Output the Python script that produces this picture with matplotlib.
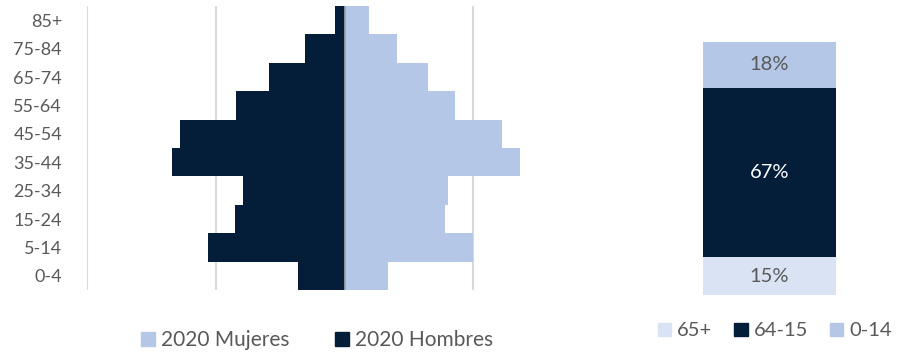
import numpy as np
import matplotlib.pyplot as plt
from matplotlib.patches import Patch

plt.rcParams['font.family'] = ['Lato', 'DejaVu Sans']

# age groups bottom -> top
grupos = ['0-4', '5-14', '15-24', '25-34', '35-44', '45-54', '55-64', '65-74', '75-84', '85+']
hombres = [1.8, 5.3, 4.25, 3.95, 6.7, 6.4, 4.2, 2.95, 1.55, 0.37]
mujeres = [1.7, 5.0, 3.9, 4.0, 6.8, 6.1, 4.3, 3.25, 2.05, 0.95]

# structure by broad age group (bottom -> top)
tramos = ['65+', '64-15', '0-14']
partes = [15, 67, 18]

navy = '#041e3a'
light = '#b4c7e7'
lightest = '#dae3f3'
gray = '#595959'

fig = plt.figure(figsize=(9.07, 3.55), dpi=100)

# pyramid
ax = fig.add_axes([87/907, 1 - 290/355, (602-87)/907, 284/355])
y = np.arange(len(grupos))
for g in [-10, -5, 5]:
    ax.axvline(g, color='#d9d9d9', lw=1.5, zorder=0)
ax.barh(y, mujeres, height=1.0, color=light, label='2020 Mujeres', zorder=2)
ax.barh(y, [-h for h in hombres], height=1.0, color=navy, label='2020 Hombres', zorder=2)
ax.axvline(0, color='#a6a6a6', lw=1.2, zorder=3)
ax.set_xlim(-10, 10)
ax.set_ylim(-0.5, len(grupos) - 0.5)
ax.set_yticks(y)
ax.set_yticklabels(grupos, fontsize=13, color=gray)
ax.set_xticks([])
ax.tick_params(axis='y', length=0, pad=18)
for s in ax.spines.values():
    s.set_visible(False)

fig.legend(handles=[Patch(color=light, label='2020 Mujeres'), Patch(color=navy, label='2020 Hombres')],
           loc='center', bbox_to_anchor=(317/907, 1 - 340/355), ncol=2, frameon=False,
           fontsize=15, labelcolor=gray, handlelength=0.65, handleheight=0.65,
           handletextpad=0.3, columnspacing=2.2)

# stacked bar
ax2 = fig.add_axes([703/907, 1 - 295/355, 133/907, 253/355])
colores = [lightest, navy, light]
txt = [gray, 'white', gray]
base = 0
for t, p, c, tc in zip(tramos, partes, colores, txt):
    ax2.bar(0, p, bottom=base, width=1.0, color=c, label=t)
    ax2.text(0, base + p / 2, f'{p}%', ha='center', va='center', fontsize=14.5, color=tc)
    base += p
ax2.set_xlim(-0.5, 0.5)
ax2.set_ylim(0, 100)
ax2.axis('off')

fig.legend(handles=[Patch(color=c, label=t) for t, c in zip(tramos, colores)],
           loc='center', bbox_to_anchor=(775/907, 1 - 331/355), ncol=3, frameon=False,
           fontsize=14.5, labelcolor=gray, handlelength=0.65, handleheight=0.65,
           handletextpad=0.3, columnspacing=1.1)

fig.savefig('out.png', dpi=100)
